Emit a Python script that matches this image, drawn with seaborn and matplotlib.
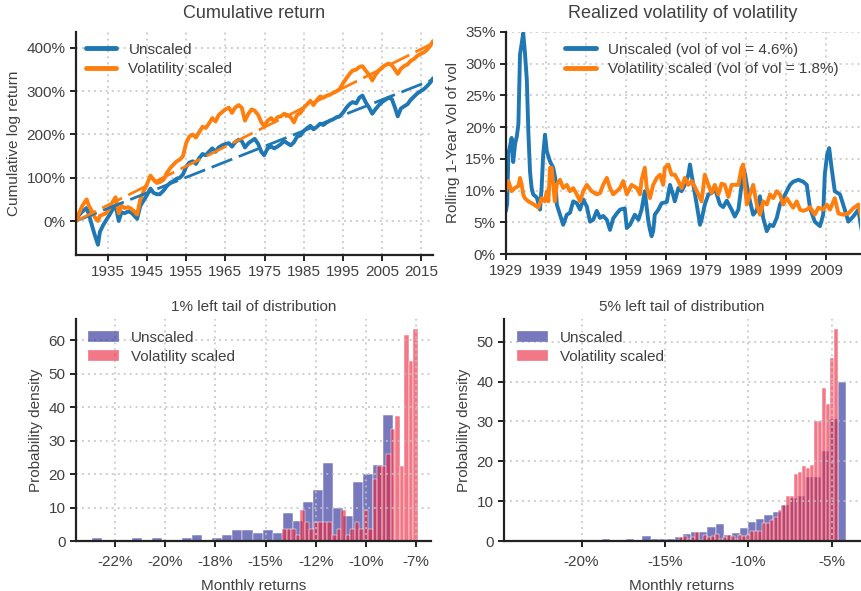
import numpy as np
import pandas as pd
import matplotlib
matplotlib.use("Agg")
import matplotlib.pyplot as plt
import seaborn as sns
from matplotlib.lines import Line2D
from matplotlib.patches import Patch
from matplotlib.ticker import FuncFormatter

# ---------------------------------------------------------------- data
# Cumulative log return (%) of the unscaled and volatility-scaled market
cum_years = [
    1926.9, 1927.5, 1928.5, 1929.6, 1930.2, 1930.8, 1931.6, 1932.5, 1933.0, 1933.8,
    1934.6, 1935.5, 1936.3, 1937.0, 1937.8, 1938.5, 1939.3, 1940.2, 1941.0, 1941.8,
    1942.5, 1943.3, 1944.2, 1945.0, 1945.9, 1946.7, 1947.5, 1948.3, 1949.2, 1950.0,
    1950.9, 1951.7, 1952.6, 1953.4, 1954.2, 1955.0, 1955.8, 1956.7, 1957.5, 1958.3,
    1959.2, 1960.0, 1960.8, 1961.7, 1962.5, 1963.3, 1964.2, 1965.0, 1965.9, 1966.7,
    1967.5, 1968.4, 1969.2, 1970.0, 1970.9, 1971.7, 1972.5, 1973.4, 1974.2, 1974.9,
    1975.8, 1976.7, 1977.5, 1978.3, 1979.2, 1980.0, 1980.8, 1981.7, 1982.5, 1983.3,
    1984.2, 1985.0, 1985.9, 1986.7, 1987.5, 1988.4, 1989.2, 1990.0, 1990.9, 1991.7,
    1992.5, 1993.4, 1994.2, 1995.0, 1995.9, 1996.7, 1997.5, 1998.4, 1999.2, 2000.0,
    2000.8, 2001.7, 2002.5, 2003.3, 2004.2, 2005.0, 2005.8, 2006.7, 2007.5, 2008.3,
    2009.0, 2009.8, 2010.6, 2011.5, 2012.3, 2013.2, 2014.0, 2014.8, 2015.7, 2016.5,
    2017.3, 2018.0,
]
cum_unscaled = [
    0, 12, 22, 30, 15, -5, -30, -55, -25, -10,
    2, 15, 28, 35, 0, 20, 18, 22, 20, 12,
    5, 35, 48, 60, 75, 65, 62, 62, 70, 80,
    88, 92, 98, 100, 108, 125, 135, 138, 132, 145,
    155, 152, 160, 168, 160, 170, 175, 178, 180, 172,
    182, 188, 185, 170, 180, 185, 190, 178, 160, 152,
    168, 172, 168, 172, 178, 185, 180, 175, 182, 195,
    198, 208, 215, 220, 212, 218, 225, 222, 228, 232,
    235, 240, 242, 250, 262, 270, 275, 272, 285, 290,
    275, 262, 248, 258, 268, 275, 280, 285, 282, 262,
    242, 260, 265, 270, 280, 288, 295, 300, 305, 312,
    320, 330,
]
cum_scaled = [
    0, 15, 35, 50, 35, 25, 10, 0, 12, 15,
    18, 30, 45, 55, 18, 35, 30, 32, 28, 22,
    15, 50, 70, 85, 105, 95, 88, 90, 95, 110,
    122, 130, 138, 142, 150, 180, 195, 200, 193, 205,
    218, 215, 225, 238, 230, 245, 252, 258, 262, 250,
    262, 268, 262, 232, 248, 258, 255, 245, 228, 220,
    232, 238, 230, 240, 242, 248, 245, 240, 228, 245,
    250, 262, 270, 278, 268, 280, 288, 285, 290, 292,
    296, 300, 305, 318, 330, 340, 348, 350, 356, 358,
    348, 338, 325, 338, 348, 355, 360, 364, 360, 350,
    340, 352, 358, 362, 370, 375, 382, 386, 390, 396,
    405, 416,
]
# end points of the linear trends (unscaled, scaled), starting from 0%
trend_end = [327, 411]

# Rolling 1-year volatility of volatility (%)
vol_years_unscaled = [
    1929.0, 1929.3, 1929.6, 1930.0, 1930.4, 1930.8, 1931.3, 1931.7, 1932.1, 1932.5,
    1933.0, 1933.3, 1933.7, 1934.2, 1934.6, 1935.0, 1935.4, 1935.8, 1936.7, 1937.5,
    1937.9, 1938.3, 1938.75, 1939.2, 1940.0, 1940.8, 1941.3, 1941.7, 1942.5, 1943.3,
    1944.2, 1945.0, 1945.8, 1946.7, 1947.5, 1948.3, 1949.2, 1950.0, 1950.8, 1951.7,
    1952.5, 1953.3, 1954.2, 1955.0, 1955.8, 1956.7, 1957.5, 1958.7, 1959.2, 1960.0,
    1961.2, 1962.1, 1962.9, 1963.7, 1964.6, 1965.0, 1965.4, 1965.8, 1966.2, 1967.1,
    1967.9, 1969.2, 1970.0, 1970.8, 1971.2, 1972.1, 1972.9, 1973.7, 1974.6, 1975.0,
    1975.4, 1976.2, 1977.1, 1977.5, 1977.9, 1978.7, 1979.6, 1980.4, 1981.2, 1982.5,
    1983.3, 1984.2, 1985.4, 1986.2, 1987.1, 1987.9, 1988.3, 1988.8, 1989.2, 1990.0,
    1990.8, 1991.7, 1992.5, 1993.3, 1994.2, 1995.0, 1995.8, 1996.7, 1997.5, 1998.3,
    1999.2, 2000.0, 2000.8, 2002.1, 2003.3, 2004.2, 2005.0, 2006.2, 2007.5, 2008.3,
    2008.7, 2009.3, 2009.8, 2010.4, 2011.2, 2012.5, 2013.7, 2014.6, 2015.8, 2017.1,
    2017.7, 2018.0,
]
vol_unscaled = [
    6.8, 8.0, 15.9, 17.0, 18.3, 14.5, 17.5, 18.5, 20.5, 31.5,
    33.5, 34.8, 32.0, 27.5, 19.0, 13.0, 10.4, 9.4, 8.9, 7.0,
    10.4, 15.7, 18.8, 16.2, 14.6, 13.6, 12.0, 7.8, 6.2, 4.6,
    6.2, 6.5, 8.3, 8.0, 7.0, 8.6, 7.5, 5.1, 5.4, 6.8,
    5.7, 6.0, 5.4, 3.8, 5.6, 6.4, 7.0, 7.2, 4.1, 4.6,
    6.2, 5.4, 7.0, 9.9, 5.1, 3.8, 2.8, 3.6, 6.2, 7.0,
    8.0, 8.2, 10.9, 9.3, 8.3, 10.4, 9.9, 10.9, 12.5, 14.1,
    12.5, 9.6, 6.2, 4.6, 5.4, 7.8, 9.4, 9.6, 10.4, 7.8,
    7.4, 8.4, 7.0, 5.9, 7.0, 10.9, 13.6, 12.5, 10.9, 8.3,
    6.2, 6.9, 9.1, 5.7, 3.6, 4.6, 4.4, 5.7, 7.8, 8.8,
    9.9, 10.9, 11.4, 11.7, 11.4, 10.9, 7.3, 5.1, 4.4, 6.2,
    12.5, 15.7, 16.7, 13.6, 9.9, 9.4, 7.0, 5.1, 5.9, 7.0,
    4.6, 3.5,
]
vol_years_scaled = [
    1929.0, 1929.6, 1930.4, 1931.2, 1932.1, 1932.5, 1932.9, 1933.3, 1933.7, 1934.6,
    1935.4, 1936.2, 1937.1, 1937.9, 1938.7, 1939.2, 1939.6, 1940.0, 1940.4, 1940.8,
    1941.2, 1941.7, 1942.5, 1943.3, 1944.2, 1945.0, 1945.8, 1946.7, 1947.5, 1948.3,
    1949.2, 1950.4, 1951.7, 1952.5, 1953.3, 1954.2, 1955.0, 1955.8, 1956.7, 1957.5,
    1958.3, 1959.2, 1960.4, 1961.7, 1962.5, 1962.9, 1963.7, 1964.2, 1965.0, 1965.8,
    1966.7, 1967.5, 1968.3, 1968.7, 1969.6, 1970.4, 1971.2, 1972.1, 1972.9, 1973.7,
    1974.6, 1975.4, 1976.2, 1977.1, 1977.9, 1978.7, 1979.6, 1980.4, 1981.2, 1982.1,
    1982.9, 1983.7, 1984.6, 1985.4, 1986.2, 1987.1, 1987.9, 1988.3, 1988.7, 1989.2,
    1990.0, 1990.8, 1991.7, 1992.5, 1993.3, 1994.2, 1995.0, 1995.8, 1996.7, 1997.5,
    1998.3, 1999.2, 2000.0, 2000.8, 2001.7, 2002.5, 2003.3, 2004.2, 2005.0, 2006.2,
    2007.1, 2008.3, 2009.2, 2010.0, 2011.2, 2012.1, 2013.3, 2014.6, 2015.8, 2017.1,
    2017.7, 2018.0,
]
vol_scaled = [
    9.9, 11.5, 9.9, 10.4, 10.7, 12.0, 11.0, 9.4, 8.8, 8.3,
    8.0, 7.7, 7.3, 8.8, 8.3, 9.9, 8.3, 13.6, 13.6, 11.0,
    8.3, 11.0, 11.7, 10.4, 10.9, 9.9, 10.4, 9.4, 8.3, 9.9,
    10.9, 9.9, 9.4, 9.6, 10.9, 12.0, 10.4, 9.4, 9.9, 10.4,
    11.5, 9.4, 10.9, 10.4, 9.4, 11.7, 13.6, 10.4, 8.8, 10.9,
    12.0, 12.5, 10.9, 13.6, 14.1, 12.5, 12.5, 11.5, 10.4, 12.0,
    10.9, 11.5, 10.6, 9.4, 8.3, 12.5, 10.9, 9.6, 10.9, 9.4,
    11.1, 10.9, 9.0, 10.9, 10.9, 10.9, 13.6, 14.1, 11.0, 7.8,
    9.4, 10.9, 7.8, 6.2, 8.3, 7.8, 9.4, 8.8, 9.9, 9.4,
    7.8, 8.8, 8.0, 7.3, 8.3, 7.0, 6.8, 7.0, 7.4, 6.2,
    7.3, 7.0, 7.8, 7.0, 8.8, 6.4, 6.2, 6.4, 7.2, 7.8,
    6.2, 5.5,
]
vol_of_vol = [4.6, 1.8]

# Left-tail histograms: bin range (%) and probability density per bin
tail1_unscaled_range = (-23.67, -8.63)
tail1_unscaled = [
    0.84, 0, 0, 0, 0.84, 0, 0.84, 0, 0, 0.84,
    1.67, 0, 0.84, 1.67, 3.35, 3.35, 2.51, 3.35, 2.51, 8.37,
    5.86, 11.7, 15.1, 23.4, 10.0, 7.53, 17.6, 20.1, 22.6, 37.7,
]
tail1_scaled_range = (-14.16, -7.415)
tail1_scaled = [
    3.72, 3.72, 3.72, 1.86, 9.3, 5.58, 3.72, 5.58, 5.58, 5.58,
    5.58, 1.86, 3.72, 9.3, 1.86, 3.72, 5.58, 3.72, 9.3, 3.72,
    18.6, 22.3, 22.3, 26.0, 33.5, 37.2, 22.3, 61.4, 53.9, 63.2,
]
tail5_unscaled_range = (-23.67, -4.16)
tail5_unscaled = [
    0.2, 0, 0, 0.2, 0.2, 0, 0.2, 0.2, 0, 0.2,
    0.4, 0, 0.2, 0.6, 0.2, 1.2, 0.6, 0.6, 0.6, 1.0,
    1.8, 2.2, 2.3, 3.5, 4.2, 1.4, 2.0, 3.35, 4.8, 5.4,
    6.45, 7.3, 9.0, 10.9, 11.2, 16.1, 16.1, 22.5, 30.7, 40.0,
]
tail5_scaled_range = (-14.16, -4.64)
tail5_scaled = [
    1.0, 1.2, 0.6, 0.9, 2.3, 0.3, 1.4, 1.0, 1.2, 1.7,
    0.6, 0.9, 1.4, 1.2, 0.6, 1.4, 1.2, 1.4, 2.4, 2.4,
    2.6, 4.4, 4.4, 5.2, 6.0, 7.7, 9.0, 11.2, 11.2, 16.7,
    17.3, 18.8, 18.2, 19.1, 30.0, 30.0, 38.3, 34.3, 46.0, 53.1,
]

series_names = ["Unscaled", "Volatility scaled"]
cum_ticks = [1935, 1945, 1955, 1965, 1975, 1985, 1995, 2005, 2015]
vol_ticks = [1929, 1939, 1949, 1959, 1969, 1979, 1989, 1999, 2009]
tail1_ticks = [-22.5, -20, -17.5, -15, -12.5, -10, -7.5]
tail1_ticklabels = ["-22%", "-20%", "-18%", "-15%", "-12%", "-10%", "-7%"]
tail5_ticks = [-20, -15, -10, -5]
tail5_ticklabels = ["-20%", "-15%", "-10%", "-5%"]

# ---------------------------------------------------------------- style
sns.set_theme(style="ticks")
plt.rcParams["font.family"] = ["Liberation Sans", "DejaVu Sans"]
TEXT = "#404040"
plt.rcParams.update({
    "font.size": 11, "axes.titlesize": 11, "axes.labelsize": 11,
    "xtick.labelsize": 11, "ytick.labelsize": 11, "legend.fontsize": 11,
    "text.color": TEXT, "axes.labelcolor": TEXT,
    "xtick.color": "#222222", "ytick.color": "#222222",
    "xtick.labelcolor": TEXT, "ytick.labelcolor": TEXT,
    "axes.edgecolor": "#222222", "axes.linewidth": 1.6,
    "xtick.major.width": 1.4, "ytick.major.width": 1.4,
    "xtick.major.size": 4, "ytick.major.size": 4,
})

BLUE = "#1f77b4"
ORANGE = "#ff7f0e"
HIST_BLUE = "#1c2090"
HIST_RED = "#ec1e38"
HIST_ALPHA = 0.6
pct = FuncFormatter(lambda v, _: f"{v:.0f}%")
legend_kw = dict(loc="upper left", borderaxespad=0, frameon=False, labelspacing=0.35)


def finish(ax):
    sns.despine(ax=ax)
    ax.set_axisbelow("line")
    ax.grid(True, color="#c2c2c2", linestyle=(0, (1.3, 2.6)), linewidth=1.1)


fig = plt.figure(figsize=(8.61, 5.91), dpi=100)
ax_cum = fig.add_axes([0.0883, 0.5685, 0.4146, 0.3774])
ax_vol = fig.add_axes([0.5877, 0.5702, 0.4111, 0.3757])
ax_t1 = fig.add_axes([0.0883, 0.0846, 0.4123, 0.3756])
ax_t5 = fig.add_axes([0.5854, 0.0846, 0.4135, 0.3756])

# ---------------------------------------------------------------- cumulative return
sns.lineplot(x=cum_years, y=cum_unscaled, ax=ax_cum, color=BLUE, lw=2.8)
sns.lineplot(x=cum_years, y=cum_scaled, ax=ax_cum, color=ORANGE, lw=2.8)
for end, col in zip(trend_end, [BLUE, ORANGE]):
    sns.lineplot(x=[cum_years[0], cum_years[-1]], y=[0, end], ax=ax_cum,
                 color=col, lw=2.0, linestyle=(0, (8, 2.5)))
ax_cum.set_xlim(cum_years[0], 2018.0)
ax_cum.set_ylim(-78.6, 437)
ax_cum.set_xticks(cum_ticks)
ax_cum.set_xticklabels([str(t) for t in cum_ticks])
ax_cum.set_yticks([0, 100, 200, 300, 400])
ax_cum.yaxis.set_major_formatter(pct)
ax_cum.set_xlabel("")
ax_cum.set_ylabel("Cumulative log return")
ax_cum.set_title("Cumulative return", fontsize=13, color=TEXT, pad=10)
ax_cum.legend(handles=[Line2D([], [], color=c, lw=3.5) for c in (BLUE, ORANGE)],
              labels=series_names, bbox_to_anchor=(0.01, 0.98), **legend_kw)
finish(ax_cum)

# ---------------------------------------------------------------- vol of vol
sns.lineplot(x=vol_years_unscaled, y=vol_unscaled, ax=ax_vol, color=BLUE, lw=2.8)
sns.lineplot(x=vol_years_scaled, y=vol_scaled, ax=ax_vol, color=ORANGE, lw=2.8)
ax_vol.set_xlim(1929.0, 2017.5)
ax_vol.set_ylim(0, 35)
ax_vol.set_xticks(vol_ticks)
ax_vol.set_xticklabels([str(t) for t in vol_ticks])
ax_vol.set_yticks(np.arange(0, 36, 5))
ax_vol.yaxis.set_major_formatter(pct)
ax_vol.set_xlabel("")
ax_vol.set_ylabel("Rolling 1-Year Vol of vol")
ax_vol.set_title("Realized volatility of volatility", fontsize=13, color=TEXT, pad=10)
vol_labels = [f"{n} (vol of vol = {v}%)" for n, v in zip(series_names, vol_of_vol)]
ax_vol.legend(handles=[Line2D([], [], color=c, lw=3.5) for c in (BLUE, ORANGE)],
              labels=vol_labels, bbox_to_anchor=(0.15, 0.98), **legend_kw)
finish(ax_vol)


# ---------------------------------------------------------------- tail histograms
def tail_hist(ax, rng, heights, color):
    edges = np.linspace(rng[0], rng[1], len(heights) + 1)
    frame = pd.DataFrame({
        "ret": (edges[:-1] + edges[1:]) / 2,
        "density": np.asarray(heights, dtype=float),
    })
    sns.histplot(data=frame, x="ret", weights="density", bins=edges.tolist(),
                 stat="count", ax=ax, color=color, alpha=HIST_ALPHA,
                 edgecolor="white", linewidth=0.35)


panels = [
    (ax_t1, tail1_unscaled_range, tail1_unscaled, tail1_scaled_range, tail1_scaled,
     "1% left tail of distribution", (-24.45, -6.75), (0, 66.3), tail1_ticks,
     tail1_ticklabels, np.arange(0, 61, 10), 0.017),
    (ax_t5, tail5_unscaled_range, tail5_unscaled, tail5_scaled_range, tail5_scaled,
     "5% left tail of distribution", (-24.65, -3.3), (0, 55.7), tail5_ticks,
     tail5_ticklabels, np.arange(0, 51, 10), 0.02),
]
for (ax, ur, uh, sr, sh, title, xl, yl, xt, xtl, yt, lx) in panels:
    tail_hist(ax, ur, uh, HIST_BLUE)
    tail_hist(ax, sr, sh, HIST_RED)
    ax.set_xlim(*xl)
    ax.set_ylim(*yl)
    ax.set_xticks(xt)
    ax.set_xticklabels(xtl)
    ax.set_yticks(yt)
    ax.tick_params(axis="x", pad=6)
    ax.set_xlabel("Monthly returns", labelpad=7)
    ax.set_ylabel("Probability density")
    ax.set_title(title, color=TEXT)
    handles = [Patch(facecolor=c, alpha=HIST_ALPHA, edgecolor="white", linewidth=0.35)
               for c in (HIST_BLUE, HIST_RED)]
    ax.legend(handles=handles, labels=series_names, bbox_to_anchor=(lx, 0.975),
              **legend_kw)
    finish(ax)

fig.savefig("out.png", dpi=100)
